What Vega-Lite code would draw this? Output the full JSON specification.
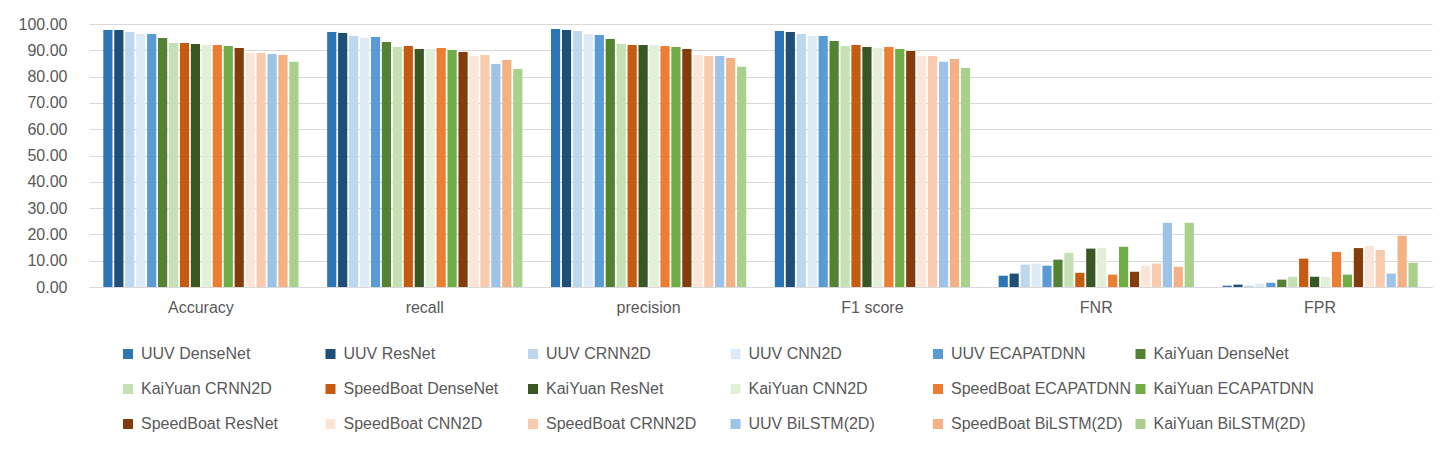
{
  "$schema": "https://vega.github.io/schema/vega-lite/v6.json",
  "autosize": {"type": "none"},
  "width": 1343,
  "height": 263,
  "padding": {"left": 89, "top": 24, "right": 16, "bottom": 165},
  "background": "white",
  "config": {
    "view": {"stroke": null},
    "font": "Liberation Sans",
    "axis": {"labelColor": "#595959", "labelFont": "Liberation Sans"},
    "legend": {"labelColor": "#595959"}
  },
  "datasets": {
    "scores": [
      {"metric": "Accuracy", "model": "UUV DenseNet", "value": 97.7},
      {"metric": "Accuracy", "model": "UUV ResNet", "value": 97.7},
      {"metric": "Accuracy", "model": "UUV CRNN2D", "value": 97.0},
      {"metric": "Accuracy", "model": "UUV CNN2D", "value": 96.2},
      {"metric": "Accuracy", "model": "UUV ECAPATDNN", "value": 96.2},
      {"metric": "Accuracy", "model": "KaiYuan DenseNet", "value": 94.7},
      {"metric": "Accuracy", "model": "KaiYuan CRNN2D", "value": 92.8},
      {"metric": "Accuracy", "model": "SpeedBoat DenseNet", "value": 92.8},
      {"metric": "Accuracy", "model": "KaiYuan ResNet", "value": 92.4},
      {"metric": "Accuracy", "model": "KaiYuan CNN2D", "value": 92.0},
      {"metric": "Accuracy", "model": "SpeedBoat ECAPATDNN", "value": 92.0},
      {"metric": "Accuracy", "model": "KaiYuan ECAPATDNN", "value": 91.6},
      {"metric": "Accuracy", "model": "SpeedBoat ResNet", "value": 90.9},
      {"metric": "Accuracy", "model": "SpeedBoat CNN2D", "value": 89.0},
      {"metric": "Accuracy", "model": "SpeedBoat CRNN2D", "value": 89.0},
      {"metric": "Accuracy", "model": "UUV BiLSTM(2D)", "value": 88.6},
      {"metric": "Accuracy", "model": "SpeedBoat BiLSTM(2D)", "value": 88.2},
      {"metric": "Accuracy", "model": "KaiYuan BiLSTM(2D)", "value": 85.6},
      {"metric": "recall", "model": "UUV DenseNet", "value": 97.0},
      {"metric": "recall", "model": "UUV ResNet", "value": 96.6},
      {"metric": "recall", "model": "UUV CRNN2D", "value": 95.4},
      {"metric": "recall", "model": "UUV CNN2D", "value": 94.7},
      {"metric": "recall", "model": "UUV ECAPATDNN", "value": 95.1},
      {"metric": "recall", "model": "KaiYuan DenseNet", "value": 93.2},
      {"metric": "recall", "model": "KaiYuan CRNN2D", "value": 91.3},
      {"metric": "recall", "model": "SpeedBoat DenseNet", "value": 91.6},
      {"metric": "recall", "model": "KaiYuan ResNet", "value": 90.5},
      {"metric": "recall", "model": "KaiYuan CNN2D", "value": 90.5},
      {"metric": "recall", "model": "SpeedBoat ECAPATDNN", "value": 90.9},
      {"metric": "recall", "model": "KaiYuan ECAPATDNN", "value": 90.1},
      {"metric": "recall", "model": "SpeedBoat ResNet", "value": 89.4},
      {"metric": "recall", "model": "SpeedBoat CNN2D", "value": 87.8},
      {"metric": "recall", "model": "SpeedBoat CRNN2D", "value": 88.2},
      {"metric": "recall", "model": "UUV BiLSTM(2D)", "value": 84.8},
      {"metric": "recall", "model": "SpeedBoat BiLSTM(2D)", "value": 86.3},
      {"metric": "recall", "model": "KaiYuan BiLSTM(2D)", "value": 82.9},
      {"metric": "precision", "model": "UUV DenseNet", "value": 98.1},
      {"metric": "precision", "model": "UUV ResNet", "value": 97.7},
      {"metric": "precision", "model": "UUV CRNN2D", "value": 97.3},
      {"metric": "precision", "model": "UUV CNN2D", "value": 96.2},
      {"metric": "precision", "model": "UUV ECAPATDNN", "value": 95.8},
      {"metric": "precision", "model": "KaiYuan DenseNet", "value": 94.3},
      {"metric": "precision", "model": "KaiYuan CRNN2D", "value": 92.4},
      {"metric": "precision", "model": "SpeedBoat DenseNet", "value": 92.0},
      {"metric": "precision", "model": "KaiYuan ResNet", "value": 92.0},
      {"metric": "precision", "model": "KaiYuan CNN2D", "value": 92.0},
      {"metric": "precision", "model": "SpeedBoat ECAPATDNN", "value": 91.6},
      {"metric": "precision", "model": "KaiYuan ECAPATDNN", "value": 91.3},
      {"metric": "precision", "model": "SpeedBoat ResNet", "value": 90.5},
      {"metric": "precision", "model": "SpeedBoat CNN2D", "value": 88.2},
      {"metric": "precision", "model": "SpeedBoat CRNN2D", "value": 87.8},
      {"metric": "precision", "model": "UUV BiLSTM(2D)", "value": 87.8},
      {"metric": "precision", "model": "SpeedBoat BiLSTM(2D)", "value": 87.1},
      {"metric": "precision", "model": "KaiYuan BiLSTM(2D)", "value": 83.7},
      {"metric": "F1 score", "model": "UUV DenseNet", "value": 97.3},
      {"metric": "F1 score", "model": "UUV ResNet", "value": 97.0},
      {"metric": "F1 score", "model": "UUV CRNN2D", "value": 96.2},
      {"metric": "F1 score", "model": "UUV CNN2D", "value": 95.4},
      {"metric": "F1 score", "model": "UUV ECAPATDNN", "value": 95.4},
      {"metric": "F1 score", "model": "KaiYuan DenseNet", "value": 93.5},
      {"metric": "F1 score", "model": "KaiYuan CRNN2D", "value": 91.6},
      {"metric": "F1 score", "model": "SpeedBoat DenseNet", "value": 92.0},
      {"metric": "F1 score", "model": "KaiYuan ResNet", "value": 91.3},
      {"metric": "F1 score", "model": "KaiYuan CNN2D", "value": 90.9},
      {"metric": "F1 score", "model": "SpeedBoat ECAPATDNN", "value": 91.3},
      {"metric": "F1 score", "model": "KaiYuan ECAPATDNN", "value": 90.5},
      {"metric": "F1 score", "model": "SpeedBoat ResNet", "value": 89.7},
      {"metric": "F1 score", "model": "SpeedBoat CNN2D", "value": 87.8},
      {"metric": "F1 score", "model": "SpeedBoat CRNN2D", "value": 87.8},
      {"metric": "F1 score", "model": "UUV BiLSTM(2D)", "value": 85.6},
      {"metric": "F1 score", "model": "SpeedBoat BiLSTM(2D)", "value": 86.7},
      {"metric": "F1 score", "model": "KaiYuan BiLSTM(2D)", "value": 83.3},
      {"metric": "FNR", "model": "UUV DenseNet", "value": 4.3},
      {"metric": "FNR", "model": "UUV ResNet", "value": 5.1},
      {"metric": "FNR", "model": "UUV CRNN2D", "value": 8.5},
      {"metric": "FNR", "model": "UUV CNN2D", "value": 8.9},
      {"metric": "FNR", "model": "UUV ECAPATDNN", "value": 8.1},
      {"metric": "FNR", "model": "KaiYuan DenseNet", "value": 10.4},
      {"metric": "FNR", "model": "KaiYuan CRNN2D", "value": 13.0},
      {"metric": "FNR", "model": "SpeedBoat DenseNet", "value": 5.4},
      {"metric": "FNR", "model": "KaiYuan ResNet", "value": 14.6},
      {"metric": "FNR", "model": "KaiYuan CNN2D", "value": 14.9},
      {"metric": "FNR", "model": "SpeedBoat ECAPATDNN", "value": 4.7},
      {"metric": "FNR", "model": "KaiYuan ECAPATDNN", "value": 15.3},
      {"metric": "FNR", "model": "SpeedBoat ResNet", "value": 5.8},
      {"metric": "FNR", "model": "SpeedBoat CNN2D", "value": 8.1},
      {"metric": "FNR", "model": "SpeedBoat CRNN2D", "value": 8.9},
      {"metric": "FNR", "model": "UUV BiLSTM(2D)", "value": 24.4},
      {"metric": "FNR", "model": "SpeedBoat BiLSTM(2D)", "value": 7.7},
      {"metric": "FNR", "model": "KaiYuan BiLSTM(2D)", "value": 24.4},
      {"metric": "FPR", "model": "UUV DenseNet", "value": 0.5},
      {"metric": "FPR", "model": "UUV ResNet", "value": 0.9},
      {"metric": "FPR", "model": "UUV CRNN2D", "value": 0.5},
      {"metric": "FPR", "model": "UUV CNN2D", "value": 1.3},
      {"metric": "FPR", "model": "UUV ECAPATDNN", "value": 1.6},
      {"metric": "FPR", "model": "KaiYuan DenseNet", "value": 2.8},
      {"metric": "FPR", "model": "KaiYuan CRNN2D", "value": 3.9},
      {"metric": "FPR", "model": "SpeedBoat DenseNet", "value": 10.8},
      {"metric": "FPR", "model": "KaiYuan ResNet", "value": 3.9},
      {"metric": "FPR", "model": "KaiYuan CNN2D", "value": 3.9},
      {"metric": "FPR", "model": "SpeedBoat ECAPATDNN", "value": 13.3},
      {"metric": "FPR", "model": "KaiYuan ECAPATDNN", "value": 4.7},
      {"metric": "FPR", "model": "SpeedBoat ResNet", "value": 14.8},
      {"metric": "FPR", "model": "SpeedBoat CNN2D", "value": 15.6},
      {"metric": "FPR", "model": "SpeedBoat CRNN2D", "value": 14.1},
      {"metric": "FPR", "model": "UUV BiLSTM(2D)", "value": 5.1},
      {"metric": "FPR", "model": "SpeedBoat BiLSTM(2D)", "value": 19.5},
      {"metric": "FPR", "model": "KaiYuan BiLSTM(2D)", "value": 9.2}
    ]
  },
  "data": {"name": "scores"},
  "mark": {"type": "bar"},
  "encoding": {
    "x": {
      "field": "metric",
      "type": "nominal",
      "sort": ["Accuracy", "recall", "precision", "F1 score", "FNR", "FPR"],
      "scale": {"paddingInner": 0.12, "paddingOuter": 0.06},
      "axis": {
        "title": null,
        "labelAngle": 0,
        "labelFontSize": 16,
        "labelPadding": 12,
        "ticks": false,
        "domainColor": "#D9D9D9",
        "domainWidth": 1
      }
    },
    "xOffset": {
      "field": "model",
      "type": "nominal",
      "sort": ["UUV DenseNet", "UUV ResNet", "UUV CRNN2D", "UUV CNN2D", "UUV ECAPATDNN", "KaiYuan DenseNet", "KaiYuan CRNN2D", "SpeedBoat DenseNet", "KaiYuan ResNet", "KaiYuan CNN2D", "SpeedBoat ECAPATDNN", "KaiYuan ECAPATDNN", "SpeedBoat ResNet", "SpeedBoat CNN2D", "SpeedBoat CRNN2D", "UUV BiLSTM(2D)", "SpeedBoat BiLSTM(2D)", "KaiYuan BiLSTM(2D)"],
      "scale": {"paddingInner": 0.16, "paddingOuter": 0.08}
    },
    "y": {
      "field": "value",
      "type": "quantitative",
      "scale": {"domain": [0, 100], "nice": false},
      "axis": {
        "title": null,
        "values": [0, 10, 20, 30, 40, 50, 60, 70, 80, 90, 100],
        "format": ".2f",
        "labelFontSize": 16,
        "labelPadding": 22,
        "ticks": false,
        "domain": false,
        "gridColor": "#D9D9D9",
        "gridWidth": 1
      }
    },
    "color": {
      "field": "model",
      "type": "nominal",
      "scale": {
        "domain": ["UUV DenseNet", "UUV ResNet", "UUV CRNN2D", "UUV CNN2D", "UUV ECAPATDNN", "KaiYuan DenseNet", "KaiYuan CRNN2D", "SpeedBoat DenseNet", "KaiYuan ResNet", "KaiYuan CNN2D", "SpeedBoat ECAPATDNN", "KaiYuan ECAPATDNN", "SpeedBoat ResNet", "SpeedBoat CNN2D", "SpeedBoat CRNN2D", "UUV BiLSTM(2D)", "SpeedBoat BiLSTM(2D)", "KaiYuan BiLSTM(2D)"],
        "range": ["#2E75B6", "#1F4E79", "#BDD7EE", "#DEEBF7", "#5B9BD5", "#548235", "#C5E0B4", "#C55A11", "#385723", "#E2F0D9", "#ED7D31", "#70AD47", "#843C0C", "#FBE5D6", "#F8CBAD", "#9DC3E6", "#F4B183", "#A9D18E"]
      },
      "legend": {
        "title": null,
        "orient": "none",
        "legendX": 31,
        "legendY": 322,
        "direction": "horizontal",
        "columns": 6,
        "gridAlign": "all",
        "columnPadding": 1.5,
        "rowPadding": 19,
        "symbolType": "square",
        "symbolSize": 100,
        "symbolStrokeWidth": 0,
        "labelFontSize": 16,
        "labelOffset": 5,
        "labelLimit": 200
      }
    }
  }
}
